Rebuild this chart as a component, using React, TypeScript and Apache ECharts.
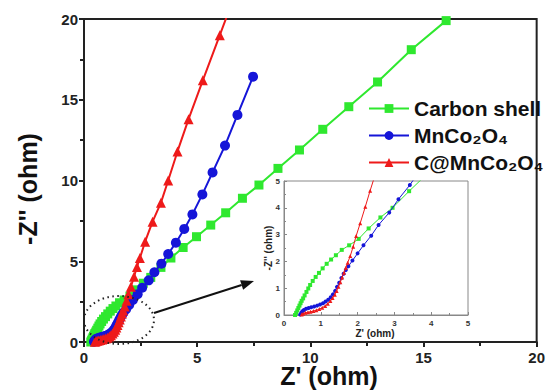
import React, { useEffect, useRef } from "react";
import * as echarts from "echarts";

const seriesNames = ["Carbon shell", "MnCo₂O₄", "C@MnCo₂O₄"];

const carbonShell: number[][] = [
  [0.3, 0.0], [0.33, 0.08], [0.36, 0.17], [0.39, 0.26], [0.42, 0.35], [0.45, 0.44],
  [0.48, 0.53], [0.52, 0.62], [0.56, 0.73], [0.61, 0.86], [0.66, 0.99], [0.71, 1.12],
  [0.78, 1.27], [0.86, 1.42], [0.95, 1.57], [1.05, 1.74], [1.16, 1.91], [1.28, 2.07],
  [1.41, 2.23], [1.57, 2.43], [1.77, 2.6], [2.03, 2.84], [2.3, 3.23], [2.62, 3.64],
  [2.95, 4.0], [3.4, 4.62], [3.84, 5.2], [4.38, 5.85], [4.97, 6.52], [5.6, 7.24],
  [6.26, 8.0], [7.0, 8.9], [7.73, 9.72], [8.57, 10.75], [9.52, 11.89], [10.55, 13.17],
  [11.7, 14.57], [12.97, 16.1], [14.46, 18.1], [16.0, 19.9],
];

const mnco2o4: number[][] = [
  [0.44, 0.02], [0.47, 0.08], [0.5, 0.14], [0.54, 0.19], [0.6, 0.23], [0.67, 0.26],
  [0.74, 0.29], [0.82, 0.32], [0.9, 0.35], [0.98, 0.39], [1.06, 0.44], [1.13, 0.5],
  [1.2, 0.57], [1.27, 0.66], [1.33, 0.77], [1.39, 0.9], [1.44, 1.05], [1.5, 1.2],
  [1.56, 1.38], [1.62, 1.54], [1.68, 1.68], [1.75, 1.82], [1.86, 2.03], [2.0, 2.3],
  [2.16, 2.6], [2.37, 2.96], [2.57, 3.36], [2.86, 3.82], [3.11, 4.32], [3.42, 4.85],
  [3.72, 5.45], [4.06, 6.15], [4.43, 7.0], [4.79, 7.9], [5.23, 9.14], [5.68, 10.5],
  [6.23, 12.16], [6.78, 14.06], [7.47, 16.43],
];

const cMnco2o4: number[][] = [
  [0.48, 0.02], [0.52, 0.05], [0.58, 0.08], [0.65, 0.1], [0.72, 0.12], [0.8, 0.15],
  [0.88, 0.18], [0.96, 0.22], [1.04, 0.27], [1.12, 0.34], [1.19, 0.42], [1.26, 0.52],
  [1.32, 0.63], [1.38, 0.76], [1.43, 0.9], [1.48, 1.05], [1.53, 1.22], [1.58, 1.4],
  [1.63, 1.58], [1.68, 1.76], [1.73, 1.95], [1.8, 2.2], [1.88, 2.55], [1.96, 2.95],
  [2.07, 3.42], [2.21, 4.04], [2.34, 4.64], [2.47, 5.2], [2.7, 6.21], [3.03, 7.45],
  [3.4, 8.63], [3.72, 10.0], [4.13, 11.8], [4.62, 13.8], [5.25, 16.2], [6.0, 19.0],
  [6.8, 22.0],
];

const colors = ["#2fe82f", "#1515d8", "#ee1a1a"];
const symbols = ["rect", "circle", "triangle"];
const mainSymbolSizes = [9, 10, 10];
const allData = [carbonShell, mnco2o4, cMnco2o4];

const FONT = "'Liberation Sans', Arial, Helvetica, sans-serif";

export default function App() {
  const ref = useRef<HTMLDivElement>(null);
  useEffect(() => {
    if (!ref.current) return;
    const chart = echarts.init(ref.current, undefined, { renderer: "svg" });

    const mainSeries = allData.map((d, i) => ({
      name: seriesNames[i],
      type: "line",
      xAxisIndex: 0,
      yAxisIndex: 0,
      data: d,
      symbol: symbols[i],
      symbolSize: mainSymbolSizes[i],
      showAllSymbol: true,
      lineStyle: { color: colors[i], width: 2 },
      itemStyle: { color: colors[i] },
      clip: true,
      z: 3 + i,
    }));
    const insetSeries = allData.map((d, i) => ({
      name: seriesNames[i] + " (inset)",
      type: "line",
      xAxisIndex: 1,
      yAxisIndex: 1,
      data: d.filter((p) => p[1] <= 6),
      symbol: symbols[i],
      symbolSize: 4,
      showAllSymbol: true,
      lineStyle: { color: colors[i], width: 1 },
      itemStyle: { color: colors[i] },
      clip: true,
      z: 10 + i,
    }));

    const tip = [254, 281];
    const start = [154, 313];
    const dx = tip[0] - start[0];
    const dy = tip[1] - start[1];
    const len = Math.sqrt(dx * dx + dy * dy);
    const ux = dx / len;
    const uy = dy / len;
    const headL = 13;
    const headW = 5;
    const bx = tip[0] - ux * headL;
    const by = tip[1] - uy * headL;

    chart.setOption({
      animation: false,
      backgroundColor: "#fff",
      textStyle: { fontFamily: FONT },
      legend: {
        data: seriesNames,
        orient: "vertical",
        left: 363,
        top: 93,
        itemWidth: 40,
        itemHeight: 11,
        itemGap: 6,
        textStyle: { fontSize: 21, fontWeight: "bold", color: "#111", fontFamily: FONT },
      },
      grid: [
        {
          left: 84,
          top: 19,
          right: 10,
          bottom: 48,
          show: true,
          borderColor: "#222",
          borderWidth: 2,
        },
        {
          left: 284,
          top: 181,
          width: 184,
          height: 134,
          show: true,
          borderColor: "#888",
          borderWidth: 1,
          backgroundColor: "#fff",
          z: 8,
        },
      ],
      xAxis: [
        {
          type: "value",
          gridIndex: 0,
          min: 0,
          max: 20,
          interval: 5,
          splitLine: { show: false },
          axisLine: { lineStyle: { color: "#222", width: 2 } },
          axisTick: { inside: false, length: 5, lineStyle: { width: 2, color: "#222" } },
          minorTick: { show: true, splitNumber: 2, length: 4, lineStyle: { width: 2, color: "#222" } },
          axisLabel: { fontSize: 15, fontWeight: "bold", color: "#222", margin: 8, fontFamily: FONT },
        },
        {
          type: "value",
          gridIndex: 1,
          min: 0,
          max: 5,
          interval: 1,
          splitLine: { show: false },
          axisLine: { lineStyle: { color: "#888", width: 1 } },
          axisTick: { inside: true, length: 3, lineStyle: { color: "#888" } },
          minorTick: { show: true, splitNumber: 2, length: 2, lineStyle: { color: "#888" } },
          axisLabel: { fontSize: 8, fontWeight: "bold", color: "#333", margin: 4, fontFamily: FONT },
          z: 9,
        },
      ],
      yAxis: [
        {
          type: "value",
          gridIndex: 0,
          min: 0,
          max: 20,
          interval: 5,
          splitLine: { show: false },
          axisLine: { lineStyle: { color: "#222", width: 2 } },
          axisTick: { inside: false, length: 5, lineStyle: { width: 2, color: "#222" } },
          minorTick: { show: true, splitNumber: 2, length: 4, lineStyle: { width: 2, color: "#222" } },
          axisLabel: { fontSize: 15, fontWeight: "bold", color: "#222", margin: 6, fontFamily: FONT },
        },
        {
          type: "value",
          gridIndex: 1,
          min: 0,
          max: 5,
          interval: 1,
          splitLine: { show: false },
          axisLine: { lineStyle: { color: "#888", width: 1 } },
          axisTick: { inside: true, length: 3, lineStyle: { color: "#888" } },
          minorTick: { show: true, splitNumber: 2, length: 2, lineStyle: { color: "#888" } },
          axisLabel: { fontSize: 8, fontWeight: "bold", color: "#333", margin: 4, fontFamily: FONT },
          z: 9,
        },
      ],
      series: [...mainSeries, ...insetSeries],
      graphic: [
        {
          type: "text",
          x: 329,
          y: 376,
          style: {
            text: "Z' (ohm)",
            font: `bold 25px ${FONT}`,
            fill: "#111",
            textAlign: "center",
            textVerticalAlign: "middle",
          },
          z: 50,
        },
        {
          type: "text",
          x: 28,
          y: 189,
          rotation: Math.PI / 2,
          style: {
            text: "-Z'' (ohm)",
            font: `bold 25px ${FONT}`,
            fill: "#111",
            textAlign: "center",
            textVerticalAlign: "middle",
          },
          z: 50,
        },
        {
          type: "text",
          x: 375,
          y: 333,
          style: {
            text: "Z' (ohm)",
            font: `bold 10px ${FONT}`,
            fill: "#222",
            textAlign: "center",
            textVerticalAlign: "middle",
          },
          z: 50,
        },
        {
          type: "text",
          x: 268,
          y: 248,
          rotation: Math.PI / 2,
          style: {
            text: "-Z'' (ohm)",
            font: `bold 10px ${FONT}`,
            fill: "#222",
            textAlign: "center",
            textVerticalAlign: "middle",
          },
          z: 50,
        },
        {
          type: "ellipse",
          shape: { cx: 119, cy: 320, rx: 35, ry: 24 },
          style: { fill: "none", stroke: "#222", lineWidth: 2, lineDash: [1.5, 3.5] },
          z: 50,
        },
        {
          type: "line",
          shape: { x1: start[0], y1: start[1], x2: bx, y2: by },
          style: { stroke: "#111", lineWidth: 2 },
          z: 50,
        },
        {
          type: "polygon",
          shape: {
            points: [
              [tip[0], tip[1]],
              [bx - uy * headW, by + ux * headW],
              [bx + uy * headW, by - ux * headW],
            ],
          },
          style: { fill: "#111" },
          z: 50,
        },
      ],
    });
    return () => chart.dispose();
  }, []);
  return (
    <div
      ref={ref}
      style={{ position: "fixed", left: 0, top: 0, width: 548, height: 390, background: "#fff" }}
    />
  );
}
